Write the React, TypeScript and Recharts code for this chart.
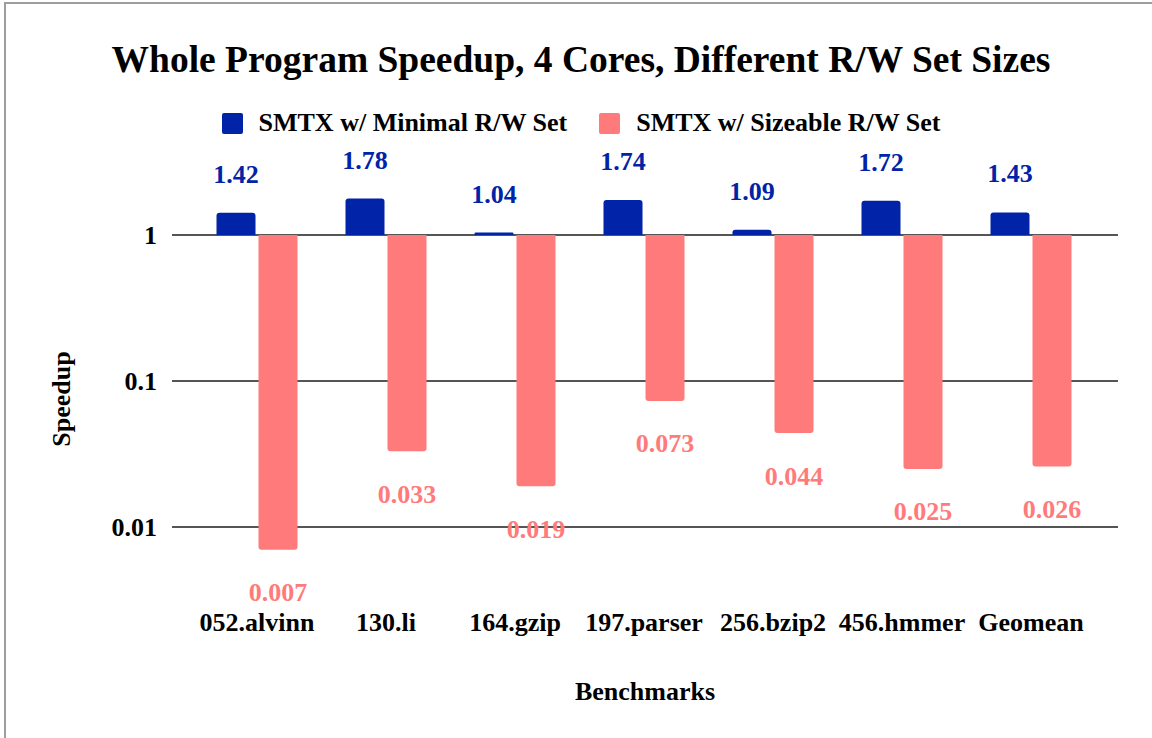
import { BarChart, Bar, XAxis, YAxis, CartesianGrid, LabelList } from 'recharts'

const benchmarks = ['052.alvinn', '130.li', '164.gzip', '197.parser', '256.bzip2', '456.hmmer', 'Geomean']
const minimalSpeedup = [1.42, 1.78, 1.04, 1.74, 1.09, 1.72, 1.43]
const sizeableSpeedup = [0.007, 0.033, 0.019, 0.073, 0.044, 0.025, 0.026]
const yTicks = [0.01, 0.1, 1]

const BLUE = '#0023a8'
const RED = '#ff7b7b'
const FONT = '"Liberation Serif", "Times New Roman", serif'

// bars grow out of the 1.0 baseline, so each one is a [low, high] range
const chartData = benchmarks.map((name, i) => ({
  name,
  minimal: minimalSpeedup[i],
  sizeable: sizeableSpeedup[i],
  minimalRange: [1, minimalSpeedup[i]],
  sizeableRange: [sizeableSpeedup[i], 1],
}))

const legendItems = [
  { label: 'SMTX w/ Minimal R/W Set', color: BLUE },
  { label: 'SMTX w/ Sizeable R/W Set', color: RED },
]

function XTick({ x, y, payload }: any) {
  return (
    <text x={x} y={y + 60} textAnchor="middle" fontFamily={FONT} fontWeight="bold" fontSize={26} fill="#000">
      {payload.value}
    </text>
  )
}

export default function App() {
  return (
    <div style={{ position: 'absolute', left: 0, top: 0, width: 1152, height: 738, background: '#fff', fontFamily: FONT, overflow: 'hidden' }}>
      <div style={{ position: 'absolute', left: 4, top: 2, width: 1200, height: 800, borderLeft: '2px solid #9e9e9e', borderTop: '2px solid #9e9e9e' }} />
      <div style={{ position: 'absolute', left: 10, top: 41, width: 1142, textAlign: 'center', fontSize: 37.5, lineHeight: '37.5px', fontWeight: 'bold', color: '#000' }}>
        Whole Program Speedup, 4 Cores, Different R/W Set Sizes
      </div>
      <div style={{ position: 'absolute', left: 0, top: 108, width: 1162, display: 'flex', justifyContent: 'center', alignItems: 'center', fontSize: 26, lineHeight: '30px', fontWeight: 'bold' }}>
        {legendItems.map((item, i) => (
          <div key={item.label} style={{ display: 'flex', alignItems: 'center', marginLeft: i ? 32 : 0 }}>
            <div style={{ width: 21, height: 21, background: item.color, borderRadius: 2, marginRight: 16 }} />
            <span>{item.label}</span>
          </div>
        ))}
      </div>
      <div style={{ position: 'absolute', left: 0, top: 679, width: 1290, textAlign: 'center', fontSize: 26, lineHeight: '26px', fontWeight: 'bold' }}>
        Benchmarks
      </div>
      <div style={{ position: 'absolute', left: 62, top: 399, width: 0, height: 0 }}>
        <div style={{ position: 'absolute', left: -60, top: -13, width: 120, textAlign: 'center', fontSize: 26, lineHeight: '26px', fontWeight: 'bold', transform: 'rotate(-90deg)' }}>
          Speedup
        </div>
      </div>
      <BarChart
        width={1152}
        height={738}
        data={chartData}
        margin={{ top: 177, right: 34, bottom: 127, left: 0 }}
        barSize={39}
        barGap={3}
        style={{ position: 'absolute', left: 0, top: 0 }}
      >
        <CartesianGrid vertical={false} horizontalValues={yTicks} stroke="#555" strokeWidth={2} />
        <XAxis
          dataKey="name"
          axisLine={false}
          tickLine={false}
          tickSize={0}
          tickMargin={0}
          height={40}
          padding={{ left: 20.5, right: 22.5 }}
          interval={0}
          tick={<XTick />}
        />
        <YAxis
          scale="log"
          domain={[0.005, 2.5]}
          allowDataOverflow
          ticks={yTicks}
          tickFormatter={(v) => String(v)}
          axisLine={false}
          tickLine={false}
          tickSize={0}
          tickMargin={15}
          width={172}
          tick={{ fill: '#000', fontSize: 26, fontWeight: 'bold', fontFamily: FONT }}
        />
        <Bar dataKey="minimalRange" fill={BLUE} radius={[3, 3, 0, 0]} isAnimationActive={false}>
          <LabelList
            dataKey="minimal"
            position="top"
            offset={30}
            fill={BLUE}
            fontSize={26}
            fontWeight="bold"
            fontFamily={FONT}
          />
        </Bar>
        <Bar dataKey="sizeableRange" fill={RED} radius={[0, 0, 3, 3]} isAnimationActive={false}>
          <LabelList
            dataKey="sizeable"
            position="bottom"
            offset={33}
            fill={RED}
            fontSize={26}
            fontWeight="bold"
            fontFamily={FONT}
          />
        </Bar>
      </BarChart>
    </div>
  )
}
